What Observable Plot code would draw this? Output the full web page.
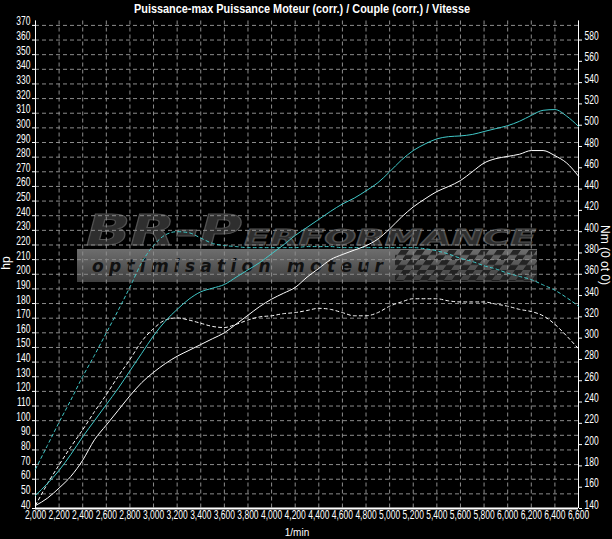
<!DOCTYPE html>
<html><head><meta charset="utf-8">
<script src="https://cdn.jsdelivr.net/npm/d3@7"></script>
<script src="https://cdn.jsdelivr.net/npm/@observablehq/plot@0.6"></script>
<style>
html,body{margin:0;padding:0;background:#000;}
#chart{position:relative;width:612px;height:539px;overflow:hidden;background:#000;}
#chart svg{position:absolute;left:0;top:0;}
</style></head><body>
<div id="chart"></div>
<script>
const rpm = [2000,2100,2200,2300,2400,2500,2600,2700,2800,2900,3000,3100,3200,3300,3400,3500,3600,3700,3800,3900,4000,4100,4200,4300,4400,4500,4600,4700,4800,4900,5000,5100,5200,5300,5400,5500,5600,5700,5800,5900,6000,6100,6200,6300,6400,6500,6600];
// Puissance moteur (corr.) — tuned, hp
const powerTuned = [49,57,66,77,89,100,111,122,134,146,158,168,176,183,188,190.5,193,198,203,208,214,220,226.5,232,237.5,243,248,252,257,262.5,270,278,284.5,289,292.5,294,294.5,295.5,297.5,299.5,301.5,304.5,308.5,312,312.5,308,301];
// Puissance moteur — stock, hp
const powerStock = [42,47,54,62,73,87,97,107,117,126,133,139,144,148,152,156,160,166,172,178,183,187,191,198,204,210,213.5,216.5,219.5,224,231,239,246,251.5,256.5,260,264,270,276,279,280.5,282,284.5,284.5,281,276,267];
// Couple (corr.) — tuned, Nm
const torqueTuned = [177,199,221,242,264,284,305,326,348,371,387,397,400,399,394,389,387,386,385,385,385,385,385,386,386,386,385,385,385,385,385,385,385,384,382,379,375,372,368,365,361,358,355,350,345,338,330];
// Couple — stock, Nm
const torqueStock = [143,163,181,198,214,231,247,264,280,297,309,317,319,317,314,311,310,313,317,320,321,323,324,326,328,327,324,321,321,324,330,334,337,337,337,335,334,334,334,332,330,327,325,321,313,302,290];

const hpTicks = [40,50,60,70,80,90,100,110,120,130,140,150,160,170,180,190,200,210,220,230,240,250,260,270,280,290,300,310,320,330,340,350,360,370];
const nmTicks = [140,160,180,200,220,240,260,280,300,320,340,360,380,400,420,440,460,480,500,520,540,560,580];
const rpmTicks = [2000,2200,2400,2600,2800,3000,3200,3400,3600,3800,4000,4200,4400,4600,4800,5000,5200,5400,5600,5800,6000,6200,6400,6600];

// right (Nm) axis shares the hp scale: 140 Nm <-> 40 hp, 580 Nm <-> 360 hp
const nmToHp = v => 40 + (v - 140) * 320 / 440;
const hpToNm = v => 140 + (v - 40) * 440 / 320;

const rows = (vals, conv) => rpm.map((r, i) => ({rpm: r, v: conv ? conv(vals[i]) : vals[i]}));

const CYAN = "#40c8c8";
const FONT = '"Liberation Sans", Arial, sans-serif';
const gridStyle = {stroke: "#8c8c8c", strokeOpacity: 1, strokeDasharray: "4,3"};

const plot = Plot.plot({
  width: 612, height: 539,
  marginLeft: 35, marginRight: 34, marginTop: 20.5, marginBottom: 31,
  style: {background: "transparent", color: "#fff", fontFamily: FONT, fontSize: "12.5px"},
  x: {domain: [2000, 6600]},
  y: {domain: [40, 373]},
  marks: [
    Plot.gridX(rpmTicks, gridStyle),
    Plot.gridY(hpTicks, gridStyle),
    Plot.axisX(rpmTicks, {tickFormat: d3.format(","), tickSize: 0, tickPadding: 5, label: null}),
    Plot.axisY(hpTicks, {tickSize: 3, tickPadding: 2, label: null}),
    Plot.axisY(nmTicks.map(nmToHp), {anchor: "right", tickSize: 3, tickPadding: 3, label: null, tickFormat: v => String(Math.round(hpToNm(v)))}),
    Plot.ruleX([2000], {stroke: "#fff"}),
    Plot.ruleX([6600], {stroke: "#fff"}),
    Plot.ruleY([40], {stroke: "#fff", strokeWidth: 2}),
    Plot.line(rows(torqueStock, nmToHp), {x: "rpm", y: "v", stroke: "#fff", strokeWidth: 1, strokeDasharray: "3,3", curve: "monotone-x"}),
    Plot.line(rows(torqueTuned, nmToHp), {x: "rpm", y: "v", stroke: CYAN, strokeWidth: 1, strokeDasharray: "3,3", curve: "monotone-x"}),
    Plot.line(rows(powerStock), {x: "rpm", y: "v", stroke: "#fff", strokeWidth: 1, curve: "monotone-x"}),
    Plot.line(rows(powerTuned), {x: "rpm", y: "v", stroke: CYAN, strokeWidth: 1, curve: "monotone-x"})
  ]
});
document.getElementById("chart").appendChild(plot);

const svg = d3.select(plot);

// condense tick labels (the original uses a narrow font)
function condense(sel, pre) {
  sel.each(function() {
    const t = d3.select(this);
    let tr = t.attr("transform") || "";
    if (t.attr("x") != null || t.attr("y") != null) {
      tr += ` translate(${+t.attr("x") || 0},${+t.attr("y") || 0})`;
      t.attr("x", null).attr("y", null);
    }
    t.style("font-size", "12.5px").attr("transform", pre + " " + tr + " scale(0.68,1)");
  });
}
condense(svg.selectAll('g[aria-label="x-axis tick label"] text'), "translate(0,5)");
condense(svg.selectAll('g[aria-label="y-axis tick label"] text'), "");

// watermark logo (behind everything)
const logo = svg.insert("g", ":first-child").attr("text-anchor", "start");
const defs = logo.append("defs");
const grad = defs.append("linearGradient").attr("id", "bar").attr("x1", 0).attr("y1", 0).attr("x2", 0).attr("y2", 1);
grad.append("stop").attr("offset", "0%").attr("stop-color", "#6e6e6e");
grad.append("stop").attr("offset", "100%").attr("stop-color", "#3e3e3e");
const pat = defs.append("pattern").attr("id", "chk").attr("width", 16).attr("height", 10)
  .attr("patternUnits", "userSpaceOnUse").attr("patternTransform", "skewX(-35)");
pat.append("rect").attr("width", 8).attr("height", 5).attr("fill", "#1a1a1a");
pat.append("rect").attr("x", 8).attr("y", 5).attr("width", 8).attr("height", 5).attr("fill", "#1a1a1a");
logo.append("rect").attr("x", 77).attr("y", 249).attr("width", 460).attr("height", 33).attr("fill", "url(#bar)");
logo.append("rect").attr("x", 395).attr("y", 250).attr("width", 142).attr("height", 31).attr("fill", "url(#chk)").attr("opacity", 0.85);
logo.append("text").attr("x", 86).attr("y", 245).attr("text-anchor", "start").text("BR-P")
  .attr("font-family", "DejaVu Sans").attr("font-weight", "bold").attr("font-style", "italic").attr("font-size", 42)
  .attr("textLength", 156).attr("lengthAdjust", "spacingAndGlyphs").attr("fill", "#2e2e2e").attr("stroke", "#505050");
logo.append("text").attr("x", 244).attr("y", 245).attr("text-anchor", "start").text("ERFORMANCE")
  .attr("font-family", "DejaVu Sans").attr("font-weight", "bold").attr("font-style", "italic").attr("font-size", 21)
  .attr("textLength", 292).attr("lengthAdjust", "spacingAndGlyphs").attr("fill", "#2e2e2e").attr("stroke", "#505050");
logo.append("text").attr("x", 92).attr("y", 272).attr("text-anchor", "start").text("optimisation moteur")
  .attr("font-family", "DejaVu Sans").attr("font-weight", "bold").attr("font-style", "italic").attr("font-size", 17)
  .attr("textLength", 291).attr("lengthAdjust", "spacing").attr("fill", "#111");

// title and axis titles
svg.append("text").attr("x", 302).attr("y", 13).attr("text-anchor", "middle")
  .attr("fill", "#fff").attr("font-family", FONT).attr("font-weight", "bold").attr("font-size", 13)
  .attr("textLength", 336).attr("lengthAdjust", "spacingAndGlyphs")
  .text("Puissance-max Puissance Moteur (corr.) / Couple (corr.) / Vitesse");
svg.append("text").attr("transform", "translate(10,263) rotate(-90)").attr("text-anchor", "middle")
  .attr("fill", "#fff").attr("font-family", FONT).attr("font-size", 12).text("hp");
svg.append("text").attr("transform", "translate(601,255) rotate(90)").attr("text-anchor", "middle")
  .attr("fill", "#fff").attr("font-family", FONT).attr("font-size", 12).text("Nm (0 ot 0)");
svg.append("text").attr("x", 297).attr("y", 536).attr("text-anchor", "middle")
  .attr("fill", "#fff").attr("font-family", FONT).attr("font-size", 10).text("1/min");
</script>
</body></html>
